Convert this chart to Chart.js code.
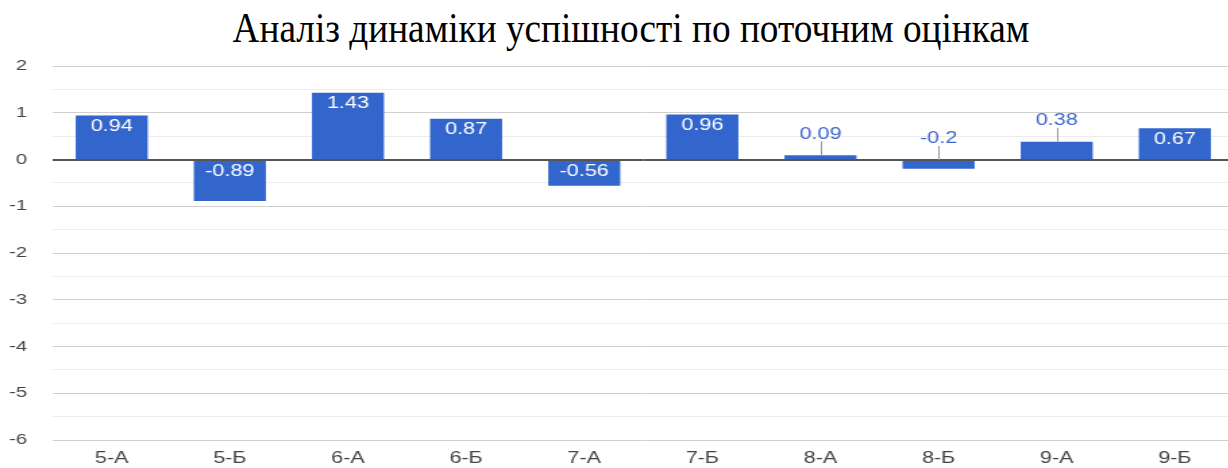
<!DOCTYPE html>
<html>
<head>
<meta charset="utf-8">
<script src="https://cdn.jsdelivr.net/npm/chart.js@4/dist/chart.umd.min.js"></script>
<style>
html,body{margin:0;padding:0;width:1228px;height:468px;overflow:hidden;background:#fff;}
#title{position:absolute;top:6px;left:631px;white-space:nowrap;font-family:"Liberation Serif","Times New Roman",serif;font-size:43px;line-height:43px;color:#000;transform-origin:center center;}
#wrap{position:absolute;left:0;top:0;width:914px;height:468px;transform:scaleX(1.35);transform-origin:0 0;}
</style>
</head>
<body>
<div id="title">Аналіз динаміки успішності по поточним оцінкам</div>
<div id="wrap"><canvas id="c"></canvas></div>
<script>
const categories = ["5-А","5-Б","6-А","6-Б","7-А","7-Б","8-А","8-Б","9-А","9-Б"];
const values = [0.94,-0.89,1.43,0.87,-0.56,0.96,0.09,-0.2,0.38,0.67];
const yMin = -6, yMax = 2, yStep = 0.5;

// fit title to reference width
(function(){
  const t = document.getElementById('title');
  const w = t.scrollWidth;
  const k = 797 / w;
  t.style.transform = 'translateX(-50%) scaleX(' + k + ')';
})();

const labelPlugin = {
  id: 'barLabels',
  afterDatasetsDraw(chart) {
    const ctx = chart.ctx;
    const y = chart.scales.y;
    const area = chart.chartArea;
    const zero = y.getPixelForValue(0);
    ctx.save();
    ctx.strokeStyle = '#555';
    ctx.lineWidth = 1;
    ctx.beginPath();
    ctx.moveTo(area.left, Math.round(zero) + 0.5);
    ctx.lineTo(area.right, Math.round(zero) + 0.5);
    ctx.stroke();
    const meta = chart.getDatasetMeta(0);
    ctx.font = '16px "Liberation Sans", Arial, sans-serif';
    ctx.textAlign = 'center';
    ctx.textBaseline = 'middle';
    meta.data.forEach((bar, i) => {
      const v = values[i];
      const top = Math.min(bar.y, bar.base);
      const h = Math.abs(bar.base - bar.y);
      const txt = String(v);
      if (h >= 22) {
        ctx.fillStyle = '#ffffff';
        const cy = v >= 0 ? top + 11 : zero + 12;
        ctx.fillText(txt, bar.x, cy);
      } else {
        ctx.strokeStyle = '#999';
        ctx.beginPath();
        ctx.moveTo(Math.round(bar.x) + 0.5, top - 14);
        ctx.lineTo(Math.round(bar.x) + 0.5, top);
        ctx.stroke();
        ctx.fillStyle = '#3f66cf';
        ctx.fillText(txt, bar.x, top - 21);
      }
    });
    ctx.restore();
  }
};

new Chart(document.getElementById('c'), {
  type: 'bar',
  data: {
    labels: categories,
    datasets: [{
      data: values,
      backgroundColor: '#3366cc',
      borderWidth: 0,
      barPercentage: 0.61,
      categoryPercentage: 1.0
    }]
  },
  plugins: [labelPlugin],
  options: {
    responsive: true,
    maintainAspectRatio: false,
    animation: false,
    layout: { padding: { top: 66, right: 0, bottom: 0, left: 0 } },
    plugins: { legend: { display: false }, tooltip: { enabled: false }, title: { display: false } },
    scales: {
      x: {
        grid: { display: false, drawTicks: false },
        border: { display: false },
        ticks: { color: '#444', font: { family: '"Liberation Sans", Arial, sans-serif', size: 16 }, padding: 9, maxRotation: 0 },
        afterFit(a) { a.height = 27.5; }
      },
      y: {
        min: yMin, max: yMax,
        border: { display: false },
        grid: {
          drawTicks: false,
          color(c) {
            const v = c.tick.value;
            if (v === 0) return '#555';
            return Number.isInteger(v) ? '#cfcfcf' : '#ececec';
          },
          lineWidth: 1
        },
        ticks: {
          stepSize: yStep,
          color: '#444',
          font: { family: '"Liberation Sans", Arial, sans-serif', size: 15 },
          padding: 19,
          callback(v) { return Number.isInteger(v) ? String(v) : ''; }
        },
        afterFit(a) { a.width = 39; }
      }
    }
  }
});
</script>
</body>
</html>
